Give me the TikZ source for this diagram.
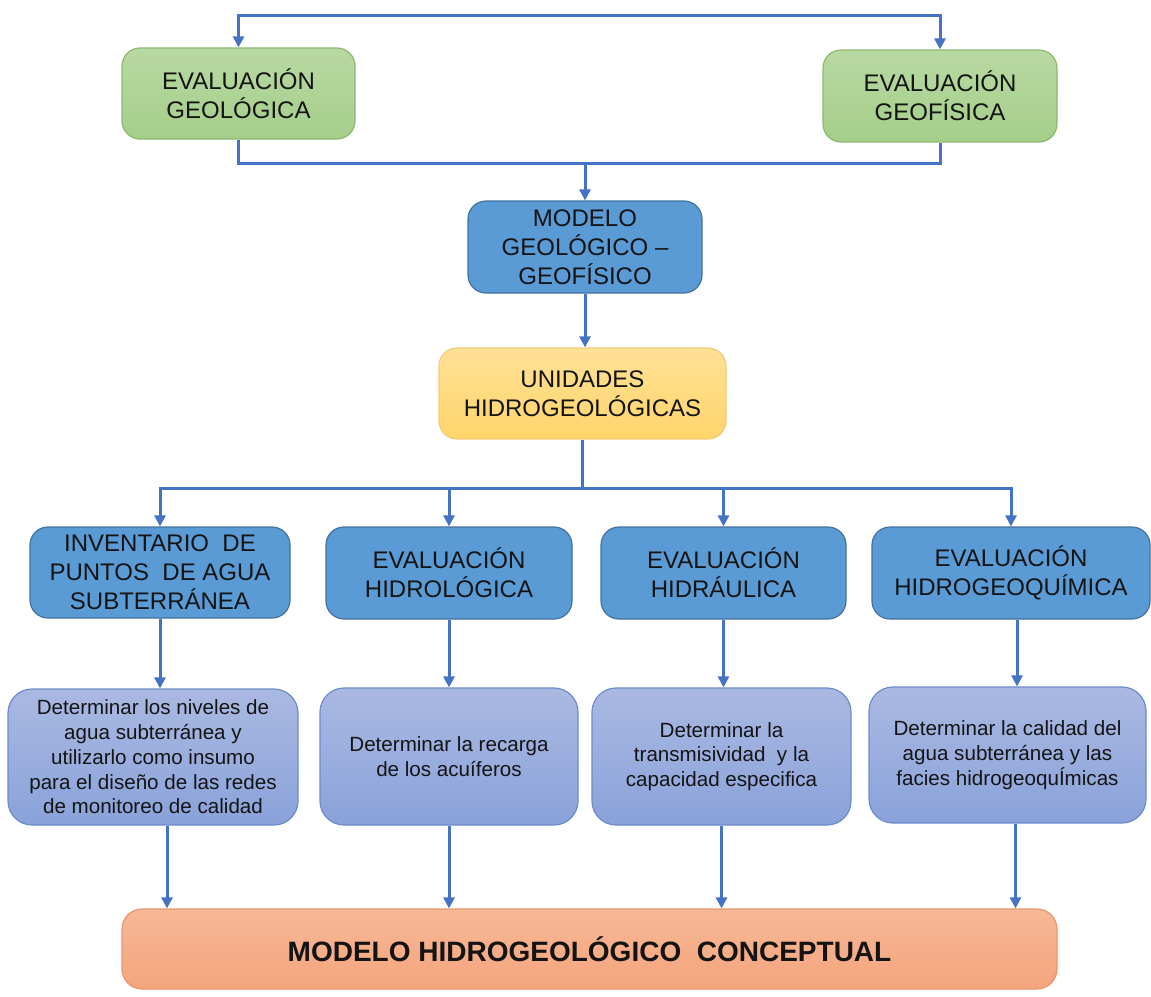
\documentclass[tikz,border=0pt]{standalone}
\usepackage{fontspec}
\setmainfont{Liberation Sans}
\usetikzlibrary{arrows.meta}
\definecolor{arrowblue}{HTML}{4472C4}
\definecolor{greenT}{HTML}{B8D9A2}
\definecolor{greenB}{HTML}{A5CE8A}
\definecolor{greenD}{HTML}{8DB872}
\definecolor{blueF}{HTML}{5B9BD5}
\definecolor{blueD}{HTML}{41719C}
\definecolor{yelT}{HTML}{FFE196}
\definecolor{yelB}{HTML}{FFD46A}
\definecolor{yelD}{HTML}{F2CC7A}
\definecolor{lbT}{HTML}{AAB9E2}
\definecolor{lbB}{HTML}{8AA2DA}
\definecolor{lbD}{HTML}{6D8BC9}
\definecolor{salT}{HTML}{F7B896}
\definecolor{salB}{HTML}{F4A47D}
\definecolor{salD}{HTML}{E8966E}
\definecolor{txt}{HTML}{141414}
\tikzset{
  box/.style={rectangle, rounded corners=9pt, line width=0.6pt, align=center,
    inner sep=0pt, text=txt, font=\fontsize{12}{14.5}\selectfont},
  greenbox/.style={box, draw=greenD, top color=greenT, bottom color=greenB},
  bluebox/.style={box, draw=blueD, fill=blueF},
  yelbox/.style={box, draw=yelD, top color=yelT, bottom color=yelB},
  lightbox/.style={box, draw=lbD, top color=lbT, bottom color=lbB, rounded corners=12pt,
    font=\fontsize{10.3}{12.4}\selectfont},
  finalbox/.style={box, draw=salD, top color=salT, bottom color=salB, rounded corners=10pt,
    font=\fontsize{14}{16}\selectfont\bfseries},
  link/.style={draw=arrowblue, line width=1.5pt},
  arr/.style={link, -{Triangle[length=5.5pt,width=5.5pt]}},
  arrboth/.style={link, {Triangle[length=5.5pt,width=5.5pt]}-{Triangle[length=5.5pt,width=5.5pt]}}
}
\begin{document}
\begin{tikzpicture}[x=0.5pt,y=-0.5pt]
\useasboundingbox (0,0) rectangle (1151,996);
% top row
\node[greenbox, minimum width=116.5pt, minimum height=45.5pt] (geol) at (238.5,93.5) {EVALUACIÓN\\GEOLÓGICA};
\node[greenbox, minimum width=117pt, minimum height=46pt] (geof) at (940,96) {EVALUACIÓN\\GEOFÍSICA};
\node[bluebox, minimum width=117pt, minimum height=46pt] (mod) at (585,247) {MODELO\\GEOLÓGICO –\\GEOFÍSICO};
\node[yelbox, minimum width=143.5pt, minimum height=45.5pt] (uni) at (582.5,393.5) {UNIDADES\\HIDROGEOLÓGICAS};
% evaluation row
\node[bluebox, minimum width=130pt, minimum height=45.5pt] (inv) at (160,572.5) {INVENTARIO\ \ DE\\PUNTOS\ \ DE AGUA\\SUBTERRÁNEA};
\node[bluebox, minimum width=123pt, minimum height=46pt] (hidrol) at (449,573) {EVALUACIÓN\\HIDROLÓGICA};
\node[bluebox, minimum width=122.5pt, minimum height=46pt] (hidra) at (723.5,573) {EVALUACIÓN\\HIDRÁULICA};
\node[bluebox, minimum width=139pt, minimum height=46pt] (hq) at (1011,573) {EVALUACIÓN\\HIDROGEOQUÍMICA};
% determination row
\node[lightbox, minimum width=145pt, minimum height=68pt] (d1) at (153,757) {Determinar los niveles de\\agua subterránea y\\utilizarlo como insumo\\para el diseño de las redes\\de monitoreo de calidad};
\node[lightbox, minimum width=129pt, minimum height=68.5pt] (d2) at (449,756.5) {Determinar la recarga\\de los acuíferos};
\node[lightbox, minimum width=129.5pt, minimum height=68.5pt] (d3) at (721.5,756.5) {Determinar la\\transmisividad\ \ y la\\capacidad especifica};
\node[lightbox, minimum width=138.5pt, minimum height=68pt] (d4) at (1007.5,755) {Determinar la calidad del\\agua subterránea y las\\facies hidrogeoquÍmicas};
% final
\node[finalbox, minimum width=467.5pt, minimum height=40pt] (fin) at (589.5,949) {MODELO HIDROGEOLÓGICO\ \ CONCEPTUAL};
% connectors top
\coordinate (topmid) at (585,15);
\draw[arrboth] (geol.north) |- (topmid) -| (geof.north);
\coordinate (j1) at (585,163);
\draw[link] (geol.south) |- (j1) -| (geof.south);
\draw[arr] (j1) -- (j1 |- mod.north);
\draw[arr] (mod.south) -- (mod.south |- uni.north);
% split
\coordinate (j2) at (585,488);
\draw[link] (uni.south) -- (uni.south |- j2);
\draw[arr] (j2) -| (inv.north);
\draw[arr] (j2) -| (hidrol.north);
\draw[arr] (j2) -| (hidra.north);
\draw[arr] (j2) -| (hq.north);
% down to determinations
\draw[arr] (inv.south) -- (inv.south |- d1.north);
\draw[arr] (hidrol.south) -- (hidrol.south |- d2.north);
\draw[arr] (hidra.south) -- (hidra.south |- d3.north);
\draw[arr] ([xshift=3pt]hq.south) -- ([xshift=3pt]hq.south |- d4.north);
% down to final
\draw[arr] ([xshift=7pt]d1.south) -- ([xshift=7pt]d1.south |- fin.north);
\draw[arr] (d2.south) -- (d2.south |- fin.north);
\draw[arr] (d3.south) -- (d3.south |- fin.north);
\draw[arr] ([xshift=4pt]d4.south) -- ([xshift=4pt]d4.south |- fin.north);
\end{tikzpicture}
\end{document}
